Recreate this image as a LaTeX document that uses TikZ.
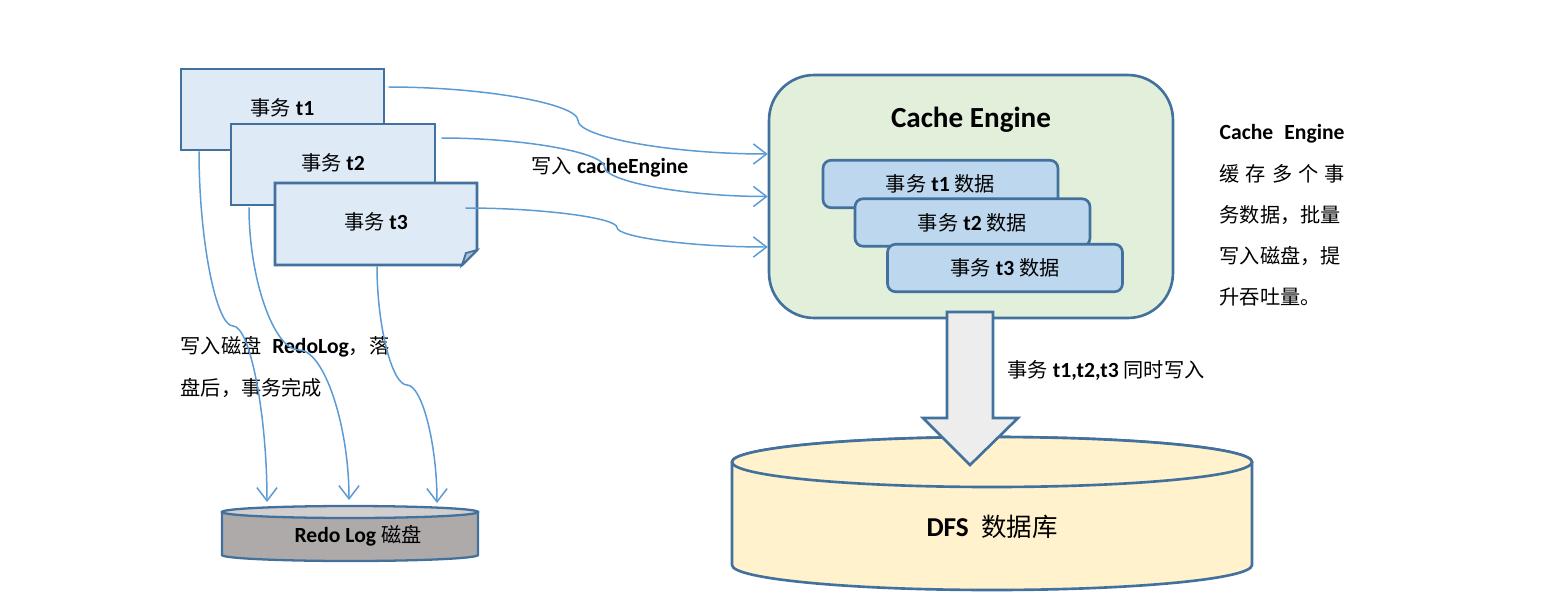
\documentclass[tikz,border=0pt]{standalone}
\usepackage{fontspec}
\setmainfont{Carlito}[Scale=1.07]
\newfontfamily\zhfont{Noto Sans CJK SC}
\newcommand{\cn}[1]{{\zhfont\mdseries #1}}
\usetikzlibrary{arrows.meta}
\definecolor{edgeblue}{RGB}{65,113,156}
\definecolor{docfill}{RGB}{222,235,247}
\definecolor{cachefill}{RGB}{226,239,218}
\definecolor{datafill}{RGB}{189,215,238}
\definecolor{linkblue}{RGB}{91,155,213}
\definecolor{bigarrow}{RGB}{237,237,237}
\definecolor{dfsfill}{RGB}{255,242,204}
\definecolor{redobody}{RGB}{174,170,170}
\definecolor{redotop}{RGB}{208,206,206}
\definecolor{foldfill}{RGB}{180,191,204}
\begin{document}
\begin{tikzpicture}[x=0.02cm,y=0.02cm,
  every node/.style={font=\fontsize{11.5}{23.5}\selectfont\bfseries},
  doc/.style={draw=edgeblue,line width=1.5pt,fill=docfill},
  data/.style={draw=edgeblue,line width=1.5pt,fill=datafill,rounded corners=0.16cm,minimum width=4.7cm,minimum height=0.95cm},
  link/.style={draw=linkblue,line width=0.85pt,-{Straight Barb[length=7.5pt,width=11.5pt]}}]
\useasboundingbox (0,0) rectangle (1557,-608);
\node[doc,minimum width=4.06cm,minimum height=1.62cm] (t1) at (282.5,-109.5) {\raisebox{3pt}{\cn{事务} t1}};
\node[doc,minimum width=4.08cm,minimum height=1.62cm] (t2) at (333,-164.5) {\raisebox{3pt}{\cn{事务} t2}};
\draw[doc] (275,-183) -- (477,-183) -- (477,-250) -- (462,-265) -- (275,-265) -- cycle;
\draw[draw=edgeblue,line width=1pt,fill=foldfill] (462,-265) -- (466,-253) -- (477,-250) -- cycle;
\node[minimum width=4.04cm,minimum height=1.64cm] (t3) at (376,-224) {\raisebox{3.5pt}{\cn{事务} t3}};
\node[draw=edgeblue,line width=1.5pt,fill=cachefill,rounded corners=0.9cm,minimum width=8.08cm,minimum height=4.86cm] (cache) at (971,-196.5) {};
\node[font=\fontsize{15.5}{18}\selectfont\bfseries] (title) at (971,-120) {Cache Engine};
\node[data] (d1) at (940.5,-184) {\cn{事务} t1 \cn{数据}\hspace{0.35cm}};
\node[data] (d2) at (972.5,-222.5) {\cn{事务} t2 \cn{数据}\hspace{0.35cm}};
\node[data] (d3) at (1005,-268) {\cn{事务} t3 \cn{数据}\hspace{0.35cm}};
\node[anchor=north west,align=left] (note) at (1213,-118) {\makebox[2.5cm][s]{Cache\hfill Engine}\\
  \makebox[2.5cm][s]{\zhfont\mdseries 缓\hfill 存\hfill 多\hfill 个\hfill 事}\\
  \cn{务数据，批量}\\ \cn{写入磁盘，提}\\ \cn{升吞吐量。}};
\node (wlabel) at (610,-167) {\cn{写入} cacheEngine};
\node[anchor=north west,align=left] (redonote) at (174,-330) {\cn{写入磁盘}\enspace RedoLog\cn{，落}\\ \cn{盘后，事务完成}};
\draw[draw=edgeblue,line width=1.5pt,fill=dfsfill] (732,-462) -- (732,-565) arc[start angle=180,end angle=360,x radius=260,y radius=25] -- (1252,-462) arc[start angle=0,end angle=180,x radius=260,y radius=25] -- cycle;
\draw[draw=edgeblue,line width=1.5pt,fill=dfsfill] (992,-462) ellipse[x radius=260,y radius=25];
\node[font=\fontsize{14.5}{17}\selectfont\bfseries] (dfs) at (992,-527) {DFS\ \ \cn{数据库}};
\draw[draw=edgeblue,line width=1.5pt,fill=bigarrow] (947,-312) -- (993,-312) -- (993,-418) -- (1018,-418) -- (970,-465) -- (923,-418) -- (947,-418) -- cycle;
\node[anchor=west] (dfsnote) at (1001,-370) {\cn{事务} t1,t2,t3 \cn{同时写入}};
\draw[draw=edgeblue,line width=1.3pt,fill=redobody] (222,-512) -- (222,-555) arc[start angle=180,end angle=360,x radius=128,y radius=6] -- (478,-512) -- cycle;
\draw[draw=edgeblue,line width=1.3pt,fill=redotop] (350,-512) ellipse[x radius=128,y radius=6];
\node (redo) at (358,-536) {Redo Log \cn{磁盘}};
\draw[link] ([shift={(3,22.5)}]t1.east) .. controls +(95.5,0) and +(0,16.75) .. (578,-120.5) .. controls +(0,-16.75) and +(-95.5,0) .. ([shift={(0,42.5)}]cache.west);
\draw[link] ([shift={(5,26.5)}]t2.east) .. controls +(82.25,0) and +(0,14.5) .. (604.5,-167) .. controls +(0,-14.5) and +(-82.25,0) .. (cache.west);
\draw[link] ([shift={(-12,16)}]t3.east) .. controls +(76,0) and +(0,9.75) .. (617,-227.5) .. controls +(0,-9.75) and +(-76,0) .. ([shift={(0,-50.5)}]cache.west);
\draw[link] ([shift={(-83.5,0)}]t1.south) .. controls +(0,-88) and +(-17,0) .. (233,-326) .. controls +(17,0) and +(0,88) .. ([shift={(-91,34)}]redo.center);
\draw[link] ([shift={(-84,-1)}]t2.south) .. controls +(0,-72) and +(-25,0) .. (299,-350) .. controls +(25,0) and +(0,75) .. ([shift={(-9,36)}]redo.center);
\draw[link] ([shift={(1,-1)}]t3.south) .. controls +(0,-59.5) and +(-15,0) .. (407,-385) .. controls +(15,0) and +(0,59) .. ([shift={(79,33)}]redo.center);
\end{tikzpicture}
\end{document}
